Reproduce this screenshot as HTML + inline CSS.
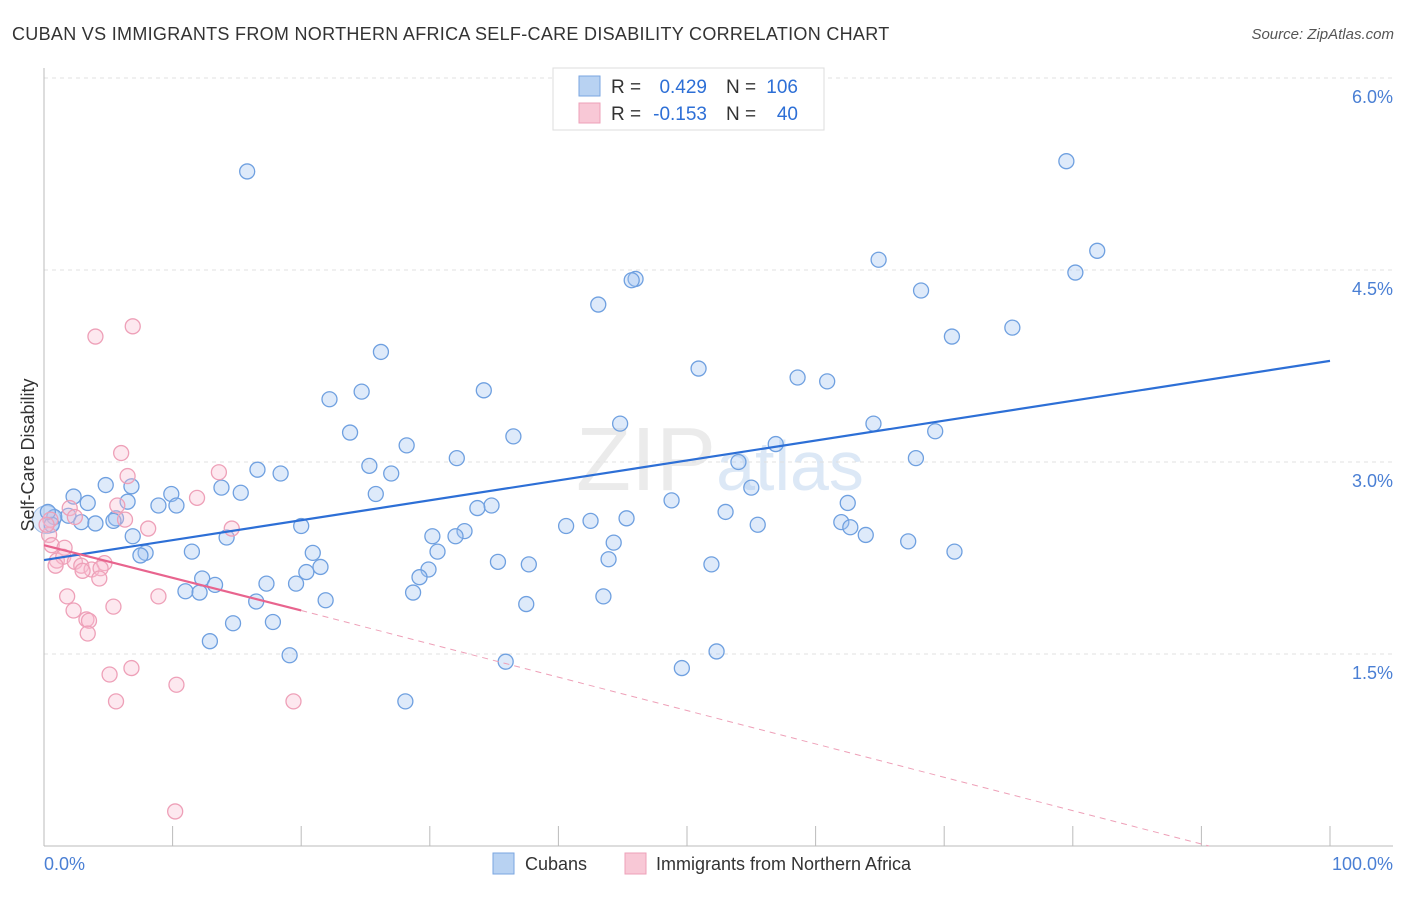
<!DOCTYPE html>
<html><head><meta charset="utf-8"><style>
body{margin:0;background:#fff;font-family:"Liberation Sans",sans-serif;}
svg text{font-family:"Liberation Sans",sans-serif;}
</style></head><body>
<svg id="chart" width="1406" height="892" xmlns="http://www.w3.org/2000/svg">
<text x="12" y="40" font-size="18" letter-spacing="0.3" fill="#333">CUBAN VS IMMIGRANTS FROM NORTHERN AFRICA SELF-CARE DISABILITY CORRELATION CHART</text>
<text x="1394" y="39" font-size="15" fill="#555" font-style="italic" text-anchor="end">Source: ZipAtlas.com</text>
<text x="720" y="490" font-size="90" fill="#ebebeb" text-anchor="middle" font-family="Liberation Serif">ZIP<tspan fill="#dce8f6" font-family="Liberation Sans" font-size="70">atlas</tspan></text>
<g id="grid"></g>
<g id="axes"></g>
<g id="marks"></g>
<text x="34" y="455" font-size="18" fill="#333" text-anchor="middle" transform="rotate(-90 34 455)">Self-Care Disability</text>
<text x="44" y="870" font-size="18" fill="#4a7fd4">0.0%</text>
<text x="1393" y="870" font-size="18" fill="#4a7fd4" text-anchor="end">100.0%</text>
<g>
<rect x="553" y="68" width="271" height="62" fill="#fff" stroke="#ddd"/>
<rect x="579" y="76" width="21" height="20" fill="#b8d2f2" stroke="#7aa6e0"/>
<rect x="579" y="103" width="21" height="20" fill="#f8c8d6" stroke="#eea0b8"/>
<text x="611" y="93" font-size="19" fill="#333">R =</text>
<text x="707" y="93" font-size="19" fill="#2d6fd6" text-anchor="end">0.429</text>
<text x="726" y="93" font-size="19" fill="#333">N =</text>
<text x="798" y="93" font-size="19" fill="#2d6fd6" text-anchor="end">106</text>
<text x="611" y="120" font-size="19" fill="#333">R =</text>
<text x="707" y="120" font-size="19" fill="#2d6fd6" text-anchor="end">-0.153</text>
<text x="726" y="120" font-size="19" fill="#333">N =</text>
<text x="798" y="120" font-size="19" fill="#2d6fd6" text-anchor="end">40</text>
</g>
<g>
<rect x="493" y="853" width="21" height="21" fill="#b8d2f2" stroke="#7aa6e0"/>
<text x="525" y="870" font-size="18" fill="#333">Cubans</text>
<rect x="625" y="853" width="21" height="21" fill="#f8c8d6" stroke="#eea0b8"/>
<text x="656" y="870" font-size="18" fill="#333">Immigrants from Northern Africa</text>
</g>
</svg>
<script>
const yTicks=[1.5,3.0,4.5,6.0];
const xTicks=[0,10,20,30,40,50,60,70,80,90,100];
const cubanX=[15.8,79.5,81.9,64.9,80.2,68.2,46.0,45.7,43.1,75.3,70.6,26.2,50.9,58.6,60.9,34.2,24.7,22.2,64.5,44.8,23.8,69.3,36.5,28.2,56.9,32.1,67.8,54.0,25.3,16.6,27.0,18.4,55.0,25.8,48.8,15.3,13.8,9.9,6.8,4.8,2.3,3.4,6.5,8.9,10.3,34.8,33.7,53.0,62.5,0.8,1.9,5.6,2.9,4.0,5.4,20.0,40.6,42.5,45.3,55.5,62.0,62.7,32.7,30.2,32.0,63.9,67.2,6.9,14.2,44.3,7.9,7.5,11.5,20.9,30.6,70.8,35.3,37.7,43.9,51.9,21.5,20.4,29.9,29.2,17.3,19.6,12.3,13.3,11.0,12.1,28.7,43.5,21.9,16.5,37.5,14.7,17.8,12.9,19.1,52.3,35.9,49.6,28.1,0.6,0.3];
const cubanY=[5.27,5.35,4.65,4.58,4.48,4.34,4.43,4.42,4.23,4.05,3.98,3.86,3.73,3.66,3.63,3.56,3.55,3.49,3.30,3.30,3.23,3.24,3.20,3.13,3.14,3.03,3.03,3.00,2.97,2.94,2.91,2.91,2.80,2.75,2.70,2.76,2.80,2.75,2.81,2.82,2.73,2.68,2.69,2.66,2.66,2.66,2.64,2.61,2.68,2.57,2.58,2.56,2.53,2.52,2.54,2.50,2.50,2.54,2.56,2.51,2.53,2.49,2.46,2.42,2.42,2.43,2.38,2.42,2.41,2.37,2.29,2.27,2.30,2.29,2.30,2.30,2.22,2.20,2.24,2.20,2.18,2.14,2.16,2.10,2.05,2.05,2.09,2.04,1.99,1.98,1.98,1.95,1.92,1.91,1.89,1.74,1.75,1.60,1.49,1.52,1.44,1.39,1.13,2.51,2.61];
const afrX=[6.9,4.0,6.0,6.5,13.6,5.7,11.9,2.0,6.3,2.4,0.5,8.1,14.6,0.4,0.6,1.6,1.0,1.5,2.4,4.7,2.9,3.7,4.4,0.9,3.0,4.3,1.8,8.9,2.3,5.4,3.3,3.5,3.4,6.8,5.1,10.3,5.6,19.4,10.2,0.2];
const afrY=[4.06,3.98,3.07,2.89,2.92,2.66,2.72,2.64,2.55,2.57,2.55,2.48,2.48,2.43,2.35,2.33,2.23,2.26,2.22,2.21,2.19,2.16,2.17,2.19,2.15,2.09,1.95,1.95,1.84,1.87,1.77,1.76,1.66,1.39,1.34,1.26,1.13,1.13,0.27,2.51];
const cubanTrend=[2.234,3.79];
const afrTrend=[2.35,1.84];
const afrTrendEnd=[90.6,0];

const X0=44,X1=1330,YB=846,PPU=128;
const sx=v=>X0+(X1-X0)*v/100;
const sy=v=>YB-v*PPU;
const NS="http://www.w3.org/2000/svg";
function mk(tag,attrs,parent){const e=document.createElementNS(NS,tag);for(const k in attrs)e.setAttribute(k,attrs[k]);parent.appendChild(e);return e;}
const grid=document.getElementById('grid'),axes=document.getElementById('axes'),marks=document.getElementById('marks');
yTicks.forEach(t=>{
 const l=mk('line',{x1:44,x2:1393,y1:sy(t),y2:sy(t),stroke:'#e0e0e0','stroke-dasharray':'4,4'},grid);
 
 
 const tx=mk('text',{x:1393,y:sy(t)+25,'font-size':18,fill:'#4a7fd4','text-anchor':'end'},grid);
 tx.textContent=t.toFixed(1)+'%';
 
 
});
const ya=mk('line',{x1:44,x2:44,y1:68,y2:846,stroke:'#bbb'},axes);


const xa=mk('line',{x1:44,x2:1393,y1:846,y2:846,stroke:'#bbb'},axes);


xTicks.forEach(t=>{
 const l=mk('line',{x1:sx(t),x2:sx(t),y1:826,y2:846,stroke:'#bbb'},axes);
 
 
});
const big=mk('circle',{cx:sx(0.2),cy:sy(2.55),r:14,fill:'rgba(160,196,240,0.35)',stroke:'#9dbde8'},marks);


cubanX.forEach((x,i)=>{
 const c=mk('circle',{cx:sx(x),cy:sy(cubanY[i]),r:7.5,fill:'rgba(160,196,240,0.35)',stroke:'#6fa0e0','stroke-width':1.3},marks);
 
 
});
afrX.forEach((x,i)=>{
 const c=mk('circle',{cx:sx(x),cy:sy(afrY[i]),r:7.5,fill:'rgba(248,190,210,0.35)',stroke:'#eea0b8','stroke-width':1.3},marks);
 
 
});
const t1=mk('line',{x1:sx(0),y1:sy(cubanTrend[0]),x2:sx(100),y2:sy(cubanTrend[1]),stroke:'#2d6fd6','stroke-width':2.2},marks);


const t2=mk('line',{x1:sx(0),y1:sy(afrTrend[0]),x2:sx(20),y2:sy(afrTrend[1]),stroke:'#e8648e','stroke-width':2.2},marks);


const t3=mk('line',{x1:sx(20),y1:sy(afrTrend[1]),x2:sx(afrTrendEnd[0]),y2:sy(afrTrendEnd[1]),stroke:'#eea0b8','stroke-width':1,'stroke-dasharray':'6,5'},marks);


</script>
</body></html>
